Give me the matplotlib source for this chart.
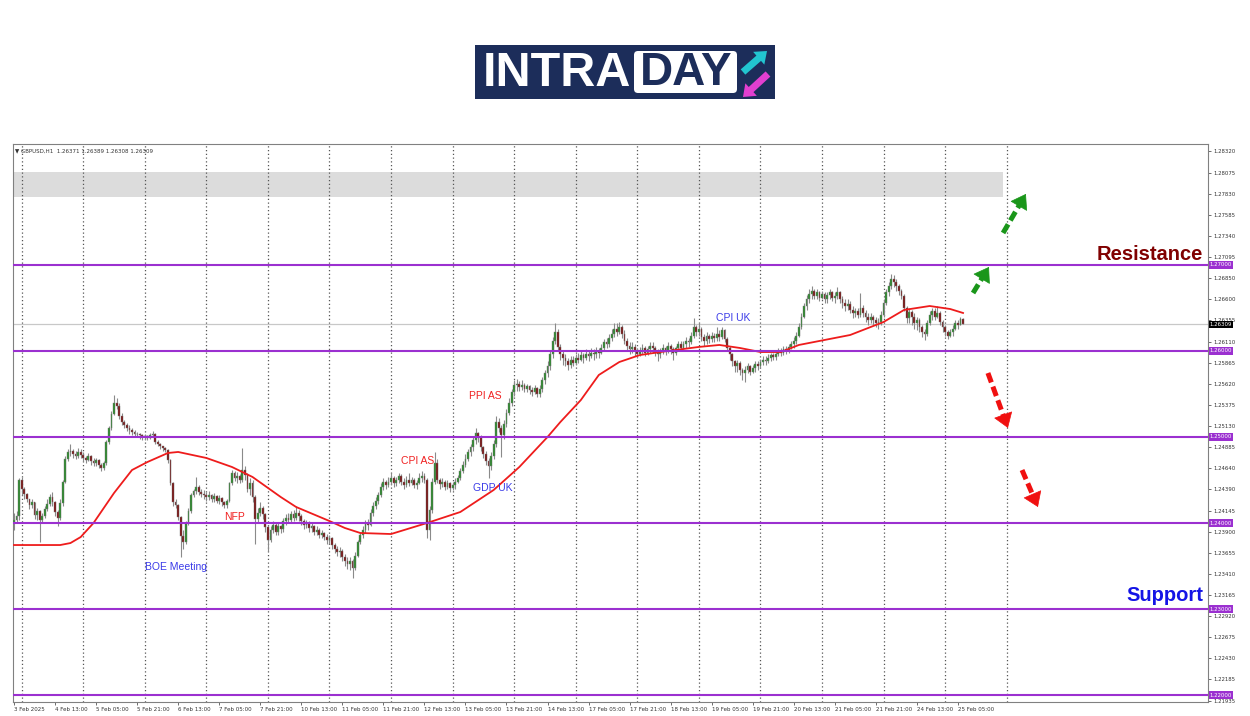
import math
import matplotlib.pyplot as plt
from matplotlib.patches import Rectangle, FancyBboxPatch, FancyArrow
from matplotlib.transforms import blended_transform_factory

# GBPUSD H1 bars, prices in pips above 1.2000, open = previous close
first_open = 400
close = [404, 408, 450, 440, 434, 428, 421, 424, 409, 414, 404, 408, 416, 422, 430, 425,
         413, 406, 423, 448, 475, 482, 484, 480, 478, 483, 479, 476, 473, 478, 472, 470,
         473, 468, 464, 470, 494, 510, 527, 540, 536, 524, 517, 514, 511, 508, 506, 504,
         503, 502, 500, 501, 499, 502, 504, 494, 492, 489, 487, 485, 473, 446, 425, 421,
         407, 385, 378, 400, 414, 432, 437, 442, 436, 434, 432, 430, 432, 428, 431, 426,
         429, 424, 421, 426, 446, 458, 452, 455, 450, 462, 456, 440, 447, 430, 405, 412,
         418, 410, 395, 380, 392, 398, 390, 396, 393, 402, 406, 404, 410, 406, 412, 408,
         402, 398, 400, 394, 396, 390, 392, 386, 388, 384, 380, 382, 374, 370, 366, 368,
         360, 356, 352, 356, 348, 362, 378, 386, 392, 400, 398, 412, 420, 426, 432, 442,
         448, 444, 448, 452, 446, 450, 455, 448, 444, 450, 446, 450, 444, 447, 452, 455,
         450, 392, 415, 448, 470, 450, 445, 448, 442, 446, 441, 444, 448, 452, 460, 468,
         475, 482, 488, 496, 505, 500, 488, 480, 472, 466, 478, 492, 518, 510, 502, 515,
         528, 540, 552, 560, 562, 558, 561, 556, 559, 555, 552, 557, 550, 556, 566, 574,
         582, 596, 612, 622, 605, 596, 592, 588, 584, 590, 586, 592, 590, 595, 592, 597,
         594, 598, 596, 600, 598, 604, 610, 608, 615, 620, 626, 622, 628, 620, 612, 606,
         602, 605, 600, 596, 600, 604, 598, 602, 606, 603, 598, 596, 600, 604, 600, 606,
         602, 598, 603, 608, 604, 608, 612, 610, 618, 628, 622, 626, 616, 612, 618, 614,
         618, 615, 620, 616, 624, 614, 604, 596, 588, 582, 586, 578, 574, 578, 582, 576,
         580, 585, 582, 587, 590, 588, 592, 595, 593, 597, 600, 598, 602, 600, 605, 608,
         612, 618, 628, 640, 652, 660, 666, 670, 664, 668, 662, 666, 660, 665, 668, 662,
         664, 668, 660, 656, 652, 655, 648, 644, 646, 642, 650, 644, 640, 636, 640, 636,
         632, 634, 642, 656, 668, 676, 684, 680, 675, 670, 664, 650, 638, 645, 640, 632,
         636, 628, 622, 620, 632, 642, 646, 640, 644, 634, 628, 622, 618, 622, 626, 632,
         630, 637, 630.9]
high = [412, 414, 452, 453, 442, 435, 428, 428, 425, 418, 415, 412, 420, 428, 434, 436,
        426, 415, 428, 450, 478, 486, 492, 486, 484, 487, 486, 482, 478, 481, 479, 476,
        476, 474, 470, 472, 497, 513, 530, 549, 545, 540, 528, 520, 516, 514, 510, 508,
        506, 505, 504, 504, 502, 505, 507, 505, 497, 493, 490, 488, 486, 474, 448, 428,
        422, 408, 392, 402, 418, 435, 440, 454, 444, 440, 438, 436, 437, 434, 435, 433,
        432, 430, 426, 428, 448, 462, 460, 459, 457, 487, 466, 458, 452, 450, 432, 418,
        424, 420, 412, 398, 396, 402, 400, 400, 398, 406, 410, 412, 414, 415, 420, 415,
        410, 405, 404, 402, 400, 398, 396, 394, 392, 390, 387, 386, 384, 377, 373, 372,
        370, 364, 360, 360, 358, 366, 380, 390, 396, 404, 405, 416, 424, 430, 436, 446,
        452, 450, 454, 458, 455, 454, 458, 457, 452, 455, 458, 453, 452, 450, 458, 460,
        458, 452, 420, 452, 483, 474, 452, 452, 450, 450, 448, 448, 452, 456, 464, 472,
        480, 486, 492, 500, 510, 506, 502, 490, 484, 476, 482, 496, 524, 522, 514, 520,
        532, 545, 556, 566, 568, 565, 566, 563, 562, 561, 558, 560, 558, 560, 570, 578,
        588, 600, 616, 632, 626, 608, 600, 596, 592, 594, 594, 596, 598, 600, 598, 602,
        600, 604, 602, 605, 604, 608, 614, 615, 620, 625, 632, 632, 634, 630, 624, 615,
        610, 610, 608, 604, 605, 608, 606, 606, 610, 610, 606, 602, 604, 608, 606, 610,
        608, 605, 606, 612, 612, 612, 616, 615, 622, 638, 630, 632, 628, 620, 622, 620,
        622, 621, 628, 624, 628, 626, 616, 606, 598, 590, 590, 588, 580, 582, 586, 584,
        584, 588, 588, 591, 594, 594, 596, 598, 598, 600, 604, 603, 606, 606, 608, 612,
        616, 622, 632, 644, 656, 665, 672, 675, 672, 672, 670, 670, 668, 668, 672, 670,
        668, 674, 670, 664, 660, 660, 658, 652, 650, 650, 667, 654, 648, 644, 644, 642,
        640, 638, 646, 660, 672, 680, 690, 688, 684, 678, 672, 666, 652, 650, 648, 644,
        640, 638, 630, 626, 636, 646, 650, 650, 652, 646, 636, 630, 624, 626, 630, 636,
        636, 640, 638.9]
low = [392, 400, 404, 432, 428, 424, 416, 418, 405, 404, 378, 400, 406, 414, 420, 420,
       408, 396, 404, 420, 446, 472, 478, 476, 474, 476, 476, 472, 470, 472, 468, 466,
       466, 464, 461, 462, 468, 492, 508, 525, 532, 521, 514, 510, 507, 504, 502, 500,
       500, 498, 497, 497, 496, 498, 500, 492, 489, 486, 484, 482, 470, 444, 420, 418,
       404, 360, 370, 376, 398, 412, 430, 434, 432, 430, 428, 426, 427, 424, 425, 423,
       422, 420, 417, 418, 424, 444, 449, 447, 446, 448, 450, 436, 433, 425, 376, 400,
       408, 405, 390, 367, 378, 388, 386, 386, 388, 390, 398, 400, 400, 402, 404, 402,
       398, 393, 394, 390, 390, 386, 386, 382, 383, 380, 376, 376, 370, 365, 362, 360,
       356, 350, 347, 345, 336, 345, 360, 376, 382, 388, 392, 396, 408, 416, 422, 430,
       438, 440, 442, 444, 442, 443, 446, 444, 440, 442, 443, 444, 441, 440, 445, 448,
       446, 382, 380, 412, 445, 446, 440, 442, 438, 440, 436, 438, 440, 446, 450, 458,
       465, 472, 478, 484, 492, 494, 484, 476, 468, 452, 462, 474, 488, 506, 477, 498,
       512, 525, 536, 548, 554, 553, 555, 552, 552, 550, 548, 550, 546, 547, 552, 562,
       570, 578, 592, 608, 600, 590, 584, 582, 578, 580, 582, 584, 586, 588, 586, 590,
       588, 592, 590, 592, 592, 596, 600, 603, 605, 612, 616, 618, 620, 615, 608, 600,
       596, 598, 594, 592, 594, 597, 594, 595, 598, 598, 594, 588, 592, 596, 595, 598,
       596, 590, 595, 600, 600, 602, 604, 605, 608, 615, 618, 618, 612, 606, 608, 609,
       611, 610, 612, 612, 614, 610, 600, 590, 582, 575, 576, 572, 566, 564, 574, 572,
       574, 576, 578, 580, 584, 584, 586, 588, 589, 590, 594, 594, 595, 596, 598, 602,
       604, 608, 616, 626, 638, 648, 656, 660, 660, 660, 658, 660, 656, 656, 660, 658,
       656, 660, 656, 650, 646, 648, 644, 638, 640, 638, 640, 640, 634, 630, 632, 630,
       628, 626, 630, 640, 654, 664, 672, 674, 670, 665, 660, 646, 632, 632, 630, 626,
       624, 622, 616, 613, 618, 630, 636, 636, 638, 630, 622, 618, 614, 616, 618, 624,
       626, 630, 630.8]

# moving average (red line), bar index / price
ma_bar = [0, 18, 22, 26, 31, 39, 46, 52, 60, 64, 75, 85, 93, 104, 110, 123, 129, 135, 147,
          161, 174, 187, 197, 208, 213, 221, 228, 236, 244, 252, 267, 275, 283, 291, 299,
          306, 316, 326, 339, 347, 357, 365, 370]
ma_val = [1.23744, 1.23744, 1.23767, 1.23837, 1.24000, 1.24349, 1.24616, 1.24709, 1.24814,
          1.24826, 1.24756, 1.24651, 1.24535, 1.24302, 1.24186, 1.24023, 1.23942, 1.23884,
          1.23872, 1.24000, 1.24128, 1.24384, 1.24651, 1.25000, 1.25174, 1.25430, 1.25721,
          1.25872, 1.25953, 1.25988, 1.26047, 1.26070, 1.26035, 1.25988, 1.25988, 1.26070,
          1.26128, 1.26186, 1.26337, 1.26477, 1.26523, 1.26488, 1.26442]

levels = [1.27, 1.26, 1.25, 1.24, 1.23, 1.22]
last_price = 1.26309
zone = [1.27791, 1.28081]

ytick_labels = ["1.28320", "1.28075", "1.27830", "1.27585", "1.27340", "1.27095", "1.26850",
                "1.26600", "1.26355", "1.26110", "1.25865", "1.25620", "1.25375", "1.25130",
                "1.24885", "1.24640", "1.24390", "1.24145", "1.23900", "1.23655", "1.23410",
                "1.23165", "1.22920", "1.22675", "1.22430", "1.22185", "1.21935"]
xtick_labels = ["3 Feb 2025", "4 Feb 13:00", "5 Feb 05:00", "5 Feb 21:00", "6 Feb 13:00",
                "7 Feb 05:00", "7 Feb 21:00", "10 Feb 13:00", "11 Feb 05:00", "11 Feb 21:00",
                "12 Feb 13:00", "13 Feb 05:00", "13 Feb 21:00", "14 Feb 13:00", "17 Feb 05:00",
                "17 Feb 21:00", "18 Feb 13:00", "19 Feb 05:00", "19 Feb 21:00", "20 Feb 13:00",
                "21 Feb 05:00", "21 Feb 21:00", "24 Feb 13:00", "25 Feb 05:00"]

event_names = ["BOE Meeting", "NFP", "CPI AS", "PPI AS", "GDP UK", "CPI UK"]
event_bar = [63.2, 85.8, 157.5, 183.6, 186.7, 280.3]
event_price = [1.23488, 1.24070, 1.24721, 1.25477, 1.24407, 1.26384]
event_color = ["#3a3ae8", "#f02020", "#f02020", "#f02020", "#3a3ae8", "#3a3ae8"]

# scenario arrows: (bar0, price0, bar1, price1)
up_arrows = [(373.9, 1.26674, 380.1, 1.26977), (385.6, 1.27372, 394.5, 1.27826)]
down_arrows = [(379.7, 1.25744, 387.5, 1.25105), (393.0, 1.24616, 399.2, 1.24186)]

purple = "#9b30d0"
fig = plt.figure(figsize=(12.5, 7.16), dpi=100)

# logo (pixel coordinates)
ov = fig.add_axes([0, 0, 1, 1])
ov.set_xlim(0, 1250)
ov.set_ylim(716, 0)
ov.axis("off")
ov.add_patch(Rectangle((475, 45), 300, 54, fc="#1c2d5a", ec="none"))
ov.text(483, 73, "INTRA", color="white", fontsize=35, fontweight="bold",
        family="Liberation Sans", ha="left", va="center")
ov.add_patch(FancyBboxPatch((634, 51), 103, 42, boxstyle="round,pad=0,rounding_size=4",
                            fc="white", ec="none"))
ov.text(686, 73, "DAY", color="#1c2d5a", fontsize=33, fontweight="bold",
        family="Liberation Sans", ha="center", va="center")
ov.add_patch(FancyArrow(743, 72, 24, -21, width=7, head_width=17, head_length=11,
                        length_includes_head=True, fc="#22c4d0", ec="none"))
ov.add_patch(FancyArrow(768, 74, -25, 23, width=7, head_width=17, head_length=11,
                        length_includes_head=True, fc="#e23fd0", ec="none"))

ax = fig.add_axes([12.7 / 1250, 1 - 702 / 716, (1208 - 12.7) / 1250, (702 - 144.3) / 716])
ax.set_xlim(-0.51, 465.5)
ax.set_ylim(1.21919, 1.28403)

ax.add_patch(Rectangle((-1, zone[0]), 386.6, zone[1] - zone[0], fc="#dcdcdc", ec="none", zorder=0))
for k in range(17):
    ax.axvline(3 + 24 * k, color="#555555", lw=0.9, ls=(0, (1, 2)), zorder=1)
ax.axhline(last_price, color="#c8c8c8", lw=0.9, zorder=1)

# candles
opens = [first_open] + close[:-1]
xs = list(range(len(close)))
o = [1.2 + v / 10000 for v in opens]
c = [1.2 + v / 10000 for v in close]
h = [1.2 + v / 10000 for v in high]
l = [1.2 + v / 10000 for v in low]
ax.vlines(xs, l, h, color="#8a8a8a", lw=0.8, zorder=2)
body_bot = [min(a, b) for a, b in zip(o, c)]
body_h = [max(abs(a - b), 0.00004) for a, b in zip(o, c)]
body_col = ["#2a8a2a" if b >= a else "#7a1010" for a, b in zip(o, c)]
ax.bar(xs, body_h, bottom=body_bot, width=0.7, color=body_col, edgecolor="#7a7a7a",
       lw=0.3, zorder=3)

ax.plot(ma_bar, ma_val, color="#ee1c1c", lw=1.3, zorder=4, solid_joinstyle="round")

for lv in levels:
    ax.axhline(lv, color=purple, lw=1.5, zorder=5)

for name, b, p, col in zip(event_names, event_bar, event_price, event_color):
    ax.text(b, p, name, color=col, fontsize=7.5, family="Liberation Sans",
            ha="center", va="center", zorder=6)

ax.text(463.7, 1.27058, "Resistance", color="#800000", fontsize=14.5, fontweight="bold",
        family="Liberation Sans", ha="right", va="baseline", zorder=6)
ax.text(463.7, 1.2309, "Support", color="#1414e6", fontsize=14.5, fontweight="bold",
        family="Liberation Sans", ha="right", va="baseline", zorder=6)

# dashed arrows: dashed shaft + solid head
px_bar, px_price = 2.565, 8600.0
for arrows, col in ((up_arrows, "#1a961a"), (down_arrows, "#f01010")):
    for b0, p0, b1, p1 in arrows:
        dx, dy = (b1 - b0) * px_bar, (p1 - p0) * px_price
        dist = math.hypot(dx, dy)
        bb = b1 - 11 * dx / dist / px_bar
        pb = p1 - 11 * dy / dist / px_price
        ax.plot([b0, bb], [p0, pb], color=col, lw=3.6, ls=(0, (2.0, 0.9)),
                solid_capstyle="butt", dash_capstyle="butt", zorder=6, clip_on=False)
        ax.annotate("", xy=(b1, p1), xytext=(bb, pb), zorder=6, annotation_clip=False,
                    arrowprops=dict(arrowstyle="-|>,head_length=0.5,head_width=0.34",
                                    color=col, lw=0.5, shrinkA=0, shrinkB=0,
                                    mutation_scale=19))

ax.text(0.002, 0.993, "\u25bc GBPUSD,H1  1.26371 1.26389 1.26308 1.26309", transform=ax.transAxes,
        fontsize=4, color="#333333", ha="left", va="top")

# axes
ax.yaxis.tick_right()
ax.set_yticks([float(t) for t in ytick_labels])
ax.set_yticklabels(ytick_labels, fontsize=3.9, color="#333333")
ax.set_xticks([16 * i for i in range(len(xtick_labels))])
ax.set_xticklabels(xtick_labels, fontsize=4, color="#333333", ha="left")
ax.tick_params(axis="both", length=2.5, width=0.6, color="#555555", pad=1.2)
for s in ax.spines.values():
    s.set_color("#808080")
    s.set_linewidth(0.8)

tr = blended_transform_factory(ax.transAxes, ax.transData)
for lv in levels:
    ax.text(1.0015, lv, f"{lv:.5f}", transform=tr, fontsize=3.9, color="white", ha="left",
            va="center", zorder=7, bbox=dict(boxstyle="square,pad=0.2", fc=purple, ec="none"))
ax.text(1.0015, last_price, f"{last_price:.5f}", transform=tr, fontsize=3.9, color="white",
        ha="left", va="center", zorder=7, bbox=dict(boxstyle="square,pad=0.2", fc="black", ec="none"))

fig.savefig("out.png", dpi=100)
